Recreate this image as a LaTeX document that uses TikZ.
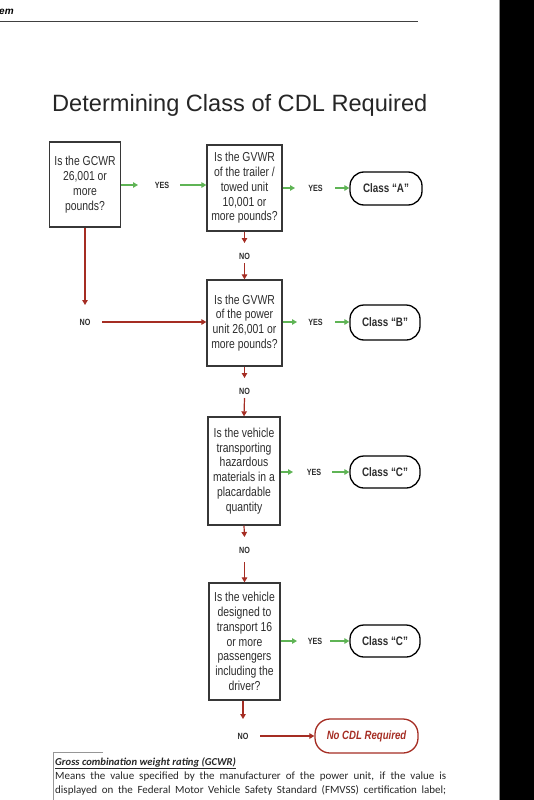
\documentclass[tikz,border=0pt]{standalone}
\usepackage{fontspec}
\setmainfont{Liberation Sans}
\newfontfamily\narrowf[FakeStretch=0.8]{Liberation Sans}
\newfontfamily\carlito{Carlito}
\usetikzlibrary{arrows.meta}
\definecolor{boxc}{RGB}{55,55,55}
\definecolor{txtc}{RGB}{45,45,45}
\definecolor{gc}{RGB}{95,180,85}
\definecolor{rc}{RGB}{165,45,35}
\definecolor{graylinec}{RGB}{150,150,150}
\tikzset{
 qbox/.style={draw=boxc, line width=1.3pt, inner sep=0pt, align=center, text=txtc,
   font=\narrowf\fontsize{13}{14.8}\selectfont},
 cbox/.style={draw=black, line width=1.3pt, rounded corners=14pt, inner sep=0pt,
   minimum width=70pt, minimum height=33pt, text=txtc,
   font=\narrowf\bfseries\fontsize{12.3}{14}\selectfont},
 lab/.style={font=\narrowf\bfseries\fontsize{9}{10}\selectfont, inner sep=0pt, text=txtc},
 garrow/.style={draw=gc, line width=1.2pt, -{Triangle[length=5pt,width=5.5pt]}},
 rarrow/.style={draw=rc, line width=1.2pt, -{Triangle[length=5pt,width=5.5pt]}},
}
\begin{document}
\begin{tikzpicture}[x=1pt,y=-1pt]
\useasboundingbox (0,0) rectangle (534,800);
% right black bar
\fill[black] (500,0) rectangle (534,800);
\draw[graylinec, line width=0.6pt] (499.5,0) -- (499.5,800);
% header
\node[anchor=base west, inner sep=0pt, font=\bfseries\itshape\fontsize{10}{12}\selectfont] (hdr) at (-1,15) {em};
\draw[black!75, line width=0.8pt] (0,21) -- (418,21);
% title
\node[anchor=base west, inner sep=0pt, text=black!85, font=\fontsize{23.6}{28}\selectfont] (title) at (52,111) {Determining Class of CDL Required};

% question boxes
\node[qbox, minimum width=71pt, minimum height=85pt] (b1) at (85,184.5) {Is the GCWR\\26,001 or\\more\\pounds?};
\node[qbox, minimum width=75pt, minimum height=86pt] (b2) at (244.5,188) {Is the GVWR\\of the trailer /\\towed unit\\10,001 or\\more pounds?};
\node[qbox, minimum width=75pt, minimum height=86pt] (b3) at (244.5,323) {Is the GVWR\\of the power\\unit 26,001 or\\more pounds?};
\node[qbox, minimum width=72pt, minimum height=108pt] (b4) at (244,471) {Is the vehicle\\transporting\\hazardous\\materials in a\\placardable\\quantity};
\node[qbox, minimum width=71pt, minimum height=117pt] (b5) at (244.5,641.5) {Is the vehicle\\designed to\\transport 16\\or more\\passengers\\including the\\driver?};

% class boxes
\node[cbox, minimum width=72pt] (ca) at (386,188.5) {Class “A”};
\node[cbox, minimum height=35pt] (cb) at (385,322.5) {Class “B”};
\node[cbox, minimum height=32pt] (cc1) at (385,472) {Class “C”};
\node[cbox, minimum height=32pt] (cc2) at (385,641) {Class “C”};
\node[cbox, draw=rc, minimum width=103pt, minimum height=34pt, rounded corners=15pt, text=rc,
  font=\narrowf\bfseries\itshape\fontsize{12}{14}\selectfont] (nocdl) at (366.5,736) {No CDL Required};

% YES labels
\node[lab] (y1) at (162,185) {YES};
\node[lab] (y2) at (315.5,188) {YES};
\node[lab] (y3) at (315.5,322) {YES};
\node[lab] (y4) at (314,472) {YES};
\node[lab] (y5) at (315,641) {YES};
% NO labels
\node[lab] (n0) at (85,322) {NO};
\node[lab] (n1) at (244.5,256) {NO};
\node[lab] (n2) at (244.5,391) {NO};
\node[lab] (n3) at (244.5,550) {NO};
\node[lab] (n4) at (243,736) {NO};

% coordinates for free ends
\coordinate (g1a) at (138,185);  \coordinate (g1b) at (180,185);
\coordinate (g2a) at (295,188);  \coordinate (g2b) at (335,188);
\coordinate (g3a) at (297,322);  \coordinate (g3b) at (335,322);
\coordinate (g4a) at (293,472);  \coordinate (g4b) at (332,472);
\coordinate (g5a) at (297,641);  \coordinate (g5b) at (330,641);
\coordinate (r0a) at (85,305);   \coordinate (r0b) at (102,322);
\coordinate (r1a) at (244.5,243); \coordinate (r1b) at (244.5,263);
\coordinate (r2a) at (244.5,378); \coordinate (r2b) at (244.5,398);
\coordinate (r3a) at (244.5,537); \coordinate (r3b) at (244.5,562);
\coordinate (r4a) at (243,719);  \coordinate (r4b) at (260,736);

% green connectors
\draw[garrow] (b1.east |- g1a) -- (g1a);
\draw[garrow] (g1b) -- (b2.west |- g1b);
\draw[garrow] (b2.east |- g2a) -- (g2a);
\draw[garrow] (g2b) -- (ca.west |- g2b);
\draw[garrow] (b3.east |- g3a) -- (g3a);
\draw[garrow] (g3b) -- (cb.west |- g3b);
\draw[garrow] (b4.east |- g4a) -- (g4a);
\draw[garrow] (g4b) -- (cc1.west |- g4b);
\draw[garrow] (b5.east |- g5a) -- (g5a);
\draw[garrow] (g5b) -- (cc2.west |- g5b);

% red connectors
\draw[rarrow] (b1.south) -- (r0a);
\draw[rarrow] (r0b) -- (b3.west |- r0b);
\draw[rarrow] (b2.south) -- (r1a);
\draw[rarrow] (r1b) -- (b3.north);
\draw[rarrow] (b3.south) -- (r2a);
\draw[rarrow] (r2b) -- (b4.north);
\draw[rarrow] (b4.south) -- (r3a);
\draw[rarrow] (r3b) -- (b5.north);
\draw[rarrow] (b5.south -| r4a) -- (r4a);
\draw[rarrow] (r4b) -- (nocdl.west);

% definition block
\draw[graylinec, line width=0.8pt] (103,752) -- (53,752) -- (53,800);
\node[anchor=base west, inner sep=0pt, text=black!85, font=\carlito\bfseries\itshape\fontsize{10.6}{12}\selectfont] (defh) at (55,765) {\underline{Gross combination weight rating (GCWR)}};
\node[anchor=base west, inner sep=0pt, text=black!85, font=\carlito\fontsize{11}{13}\selectfont] (defl1) at (55,779) {\makebox[391pt][s]{Means the value specified by the manufacturer of the power unit, if the value is}};
\node[anchor=base west, inner sep=0pt, text=black!85, font=\carlito\fontsize{11}{13}\selectfont] (defl2) at (55,793) {\makebox[391pt][s]{displayed on the Federal Motor Vehicle Safety Standard (FMVSS) certification label;}};
\end{tikzpicture}
\end{document}
